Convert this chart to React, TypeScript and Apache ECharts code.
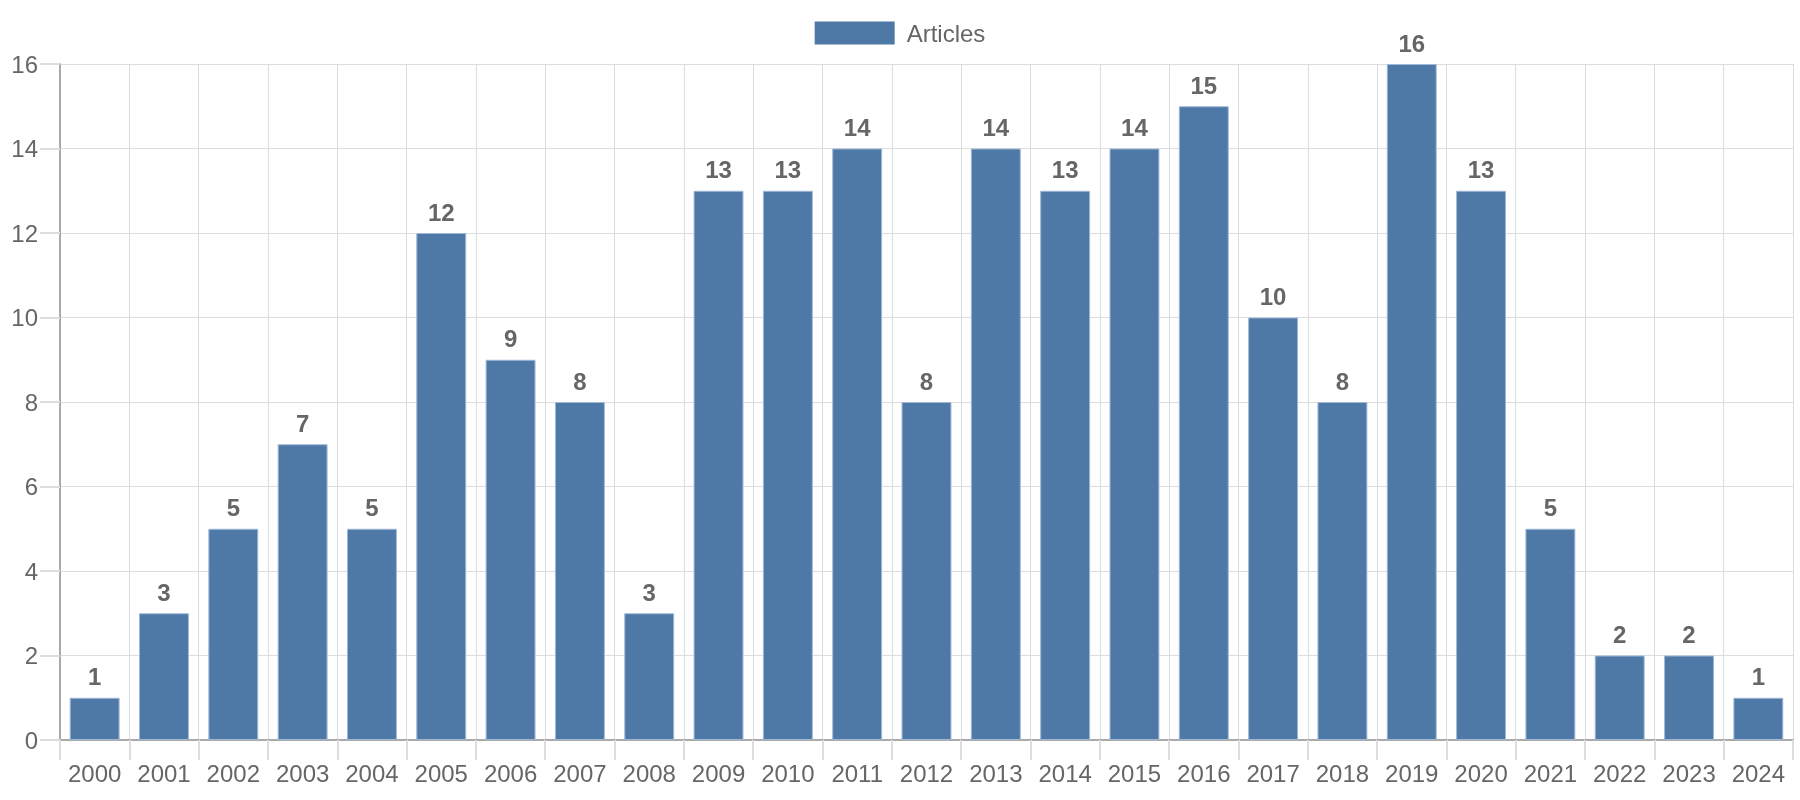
import React, { useEffect, useRef } from "react";
import * as echarts from "echarts";

const years = ["2000","2001","2002","2003","2004","2005","2006","2007","2008","2009","2010","2011","2012","2013","2014","2015","2016","2017","2018","2019","2020","2021","2022","2023","2024"];
const articles = [1,3,5,7,5,12,9,8,3,13,13,14,8,14,13,14,15,10,8,16,13,5,2,2,1];
const seriesName = "Articles";

export default function App() {
  const ref = useRef<HTMLDivElement>(null);
  useEffect(() => {
    if (!ref.current) return;
    const chart = echarts.init(ref.current, null, { renderer: "svg" });
    const font = "'Liberation Sans', Arial, sans-serif";
    chart.setOption({
      animation: false,
      textStyle: { fontFamily: font },
      legend: {
        top: 16,
        left: "center",
        itemWidth: 80,
        itemHeight: 23,
        icon: "rect",
        itemStyle: { borderWidth: 0 },
        textStyle: { fontSize: 24, color: "#666", fontFamily: font, padding: [0, 0, 0, 7] },
        data: [seriesName],
      },
      grid: { left: 60, right: 7, top: 64, bottom: 60, containLabel: false },
      xAxis: {
        type: "category",
        data: years,
        boundaryGap: true,
        axisLine: { show: true, lineStyle: { color: "#aaa", width: 2 } },
        axisTick: { show: true, interval: 0, length: 20, alignWithLabel: false, lineStyle: { color: "#ddd", width: 2 } },
        splitLine: { show: true, interval: 0, lineStyle: { color: "#ddd", width: 1 } },
        axisLabel: { interval: 0, hideOverlap: false, fontSize: 24, color: "#666", margin: 21, fontFamily: font },
      },
      yAxis: {
        type: "value",
        min: 0,
        max: 16,
        interval: 2,
        axisLine: { show: true, lineStyle: { color: "#aaa", width: 2 } },
        axisTick: { show: true, length: 20, lineStyle: { color: "#ddd", width: 2 } },
        splitLine: { show: true, lineStyle: { color: "#ddd", width: 1 } },
        axisLabel: { fontSize: 24, color: "#666", margin: 22, fontFamily: font },
      },
      series: [
        {
          name: seriesName,
          type: "bar",
          data: articles,
          barCategoryGap: "28%",
          itemStyle: { color: "#4e79a7", borderColor: "#9fb8d6", borderWidth: 1 },
          label: {
            show: true,
            position: "top",
            distance: 9,
            fontSize: 24,
            fontWeight: "bold",
            color: "#666",
            fontFamily: font,
          },
        },
      ],
    });
    return () => chart.dispose();
  }, []);
  return <div ref={ref} style={{ position: "fixed", left: 0, top: 0, width: 1800, height: 800 }} />;
}
